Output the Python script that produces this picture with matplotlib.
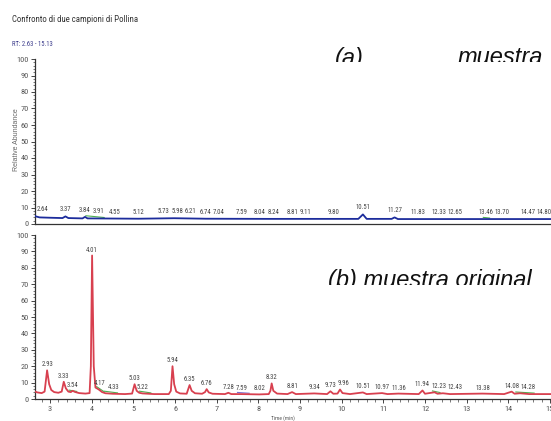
import numpy as np
import matplotlib
matplotlib.use("Agg")
import matplotlib.pyplot as plt
from matplotlib.ticker import MultipleLocator
from matplotlib.transforms import Bbox, TransformedBbox
from matplotlib.font_manager import FontProperties, fontManager

# ---------------- data ----------------
title = "Confronto di due campioni di Pollina"
rt_range = "RT: 2.63 - 15.13"
x_min, x_max = 2.63, 15.13

# (a) top trace (blue)
top_t = [2.63, 2.66, 2.75, 3.00, 3.30, 3.37, 3.44, 3.78, 3.84, 3.90, 4.55, 5.12,
         5.98, 6.74, 8.24, 10.40, 10.51, 10.60, 11.20, 11.27, 11.35, 15.13]
top_y = [5.0, 4.6, 4.0, 3.8, 3.6, 4.6, 3.6, 3.4, 4.3, 3.4, 3.3, 3.2,
         3.5, 3.2, 3.1, 3.1, 5.8, 3.1, 3.1, 4.0, 3.0, 3.0]
top_peaks = [2.64, 3.37, 3.84, 3.91, 4.55, 5.12, 5.73, 5.98, 6.21, 6.74, 7.04, 7.59,
             8.04, 8.24, 8.81, 9.11, 9.80, 10.51, 11.27, 11.83, 12.33, 12.65, 13.46,
             13.70, 14.47, 14.80]

# (b) bottom trace (red)
bot_t = [2.63, 2.70, 2.80, 2.87, 2.93, 2.98, 3.03, 3.10, 3.20, 3.28, 3.33, 3.38,
         3.44, 3.50, 3.54, 3.60, 3.70, 3.85, 3.95, 3.98, 4.01, 4.05, 4.09, 4.17,
         4.25, 4.33, 4.50, 4.80, 4.97, 5.03, 5.08, 5.14, 5.22, 5.50, 5.85, 5.90,
         5.94, 5.98, 6.03, 6.12, 6.28, 6.35, 6.40, 6.48, 6.65, 6.72, 6.76, 6.81,
         6.90, 7.20, 7.28, 7.35, 7.59, 8.02, 8.25, 8.29, 8.32, 8.36, 8.45, 8.70,
         8.81, 8.90, 9.34, 9.65, 9.73, 9.80, 9.90, 9.96, 10.02, 10.20, 10.51, 10.60,
         10.97, 11.10, 11.36, 11.85, 11.94, 12.00, 12.23, 12.30, 12.43, 12.60, 13.38,
         13.90, 14.08, 14.15, 14.28, 14.50, 15.13]
bot_y = [4.6, 4.0, 3.6, 4.5, 17.5, 9.0, 5.5, 4.2, 3.8, 4.5, 10.5, 6.5,
         4.5, 4.2, 5.0, 4.3, 3.6, 3.3, 3.6, 20.0, 87.5, 20.0, 7.0, 5.8,
         4.2, 3.5, 3.2, 3.0, 3.3, 9.0, 5.0, 3.8, 3.4, 3.0, 3.0, 5.0,
         20.0, 9.0, 4.5, 3.4, 3.2, 8.5, 5.0, 3.5, 3.2, 4.2, 6.0, 4.0,
         3.2, 3.0, 3.8, 3.0, 3.0, 2.8, 3.0, 5.0, 9.5, 5.0, 3.3, 3.0,
         4.2, 3.0, 3.4, 3.0, 4.7, 3.2, 3.3, 5.8, 3.6, 3.0, 4.0, 3.0,
         3.6, 3.0, 3.3, 3.0, 5.2, 3.2, 4.1, 3.2, 3.5, 3.0, 3.3,
         3.0, 4.5, 3.2, 3.5, 3.0, 3.0]
bot_peaks = [2.93, 3.33, 3.54, 4.01, 4.17, 4.33, 5.03, 5.22, 5.94, 6.35, 6.76, 7.28,
             7.59, 8.02, 8.32, 8.81, 9.34, 9.73, 9.96, 10.51, 10.97, 11.36, 11.94,
             12.23, 12.43, 13.38, 14.08, 14.28]

# integration baseline marks (start, end retention times)
bot_marks = [(3.46, 3.64), (4.12, 4.30), (4.30, 4.62), (5.15, 5.42),
             (12.18, 12.36), (14.18, 14.62)]
bot_mark_purple = [(7.50, 7.78)]
top_marks = [(3.86, 4.30), (13.40, 13.55)]

y_ticks = list(range(0, 101, 10))
x_ticks = list(range(3, 16))

# ---------------- fonts ----------------
names = {f.name for f in fontManager.ttflist}
cond = None
for cand in ('Liberation Sans Narrow', 'Roboto Condensed', 'Open Sans Condensed'):
    if cand in names:
        cond = FontProperties(family=[cand, 'DejaVu Sans'])
        break
if cond is None:
    cond = FontProperties(family=['Liberation Sans', 'DejaVu Sans'])
cond_family = cond.get_family()
plt.rcParams['font.family'] = cond_family

W, H = 551, 421
fig = plt.figure(figsize=(W / 100, H / 100), dpi=100)
fig.patch.set_facecolor('white')
renderer = fig.canvas.get_renderer()


def fit_size(s, target_px, family, style='normal'):
    p = FontProperties(family=family, style=style, size=10)
    w, _, _ = renderer.get_text_width_height_descent(s, p, ismath=False)
    return 10 * target_px / w


lab_fs = min(fit_size("2.93", 11.7, cond_family), 6.0)
tick_fs = min(fit_size("100", 12.0, cond_family), 6.0)
xtick_fs = tick_fs
title_fs = min(fit_size(title, 125, cond_family), 7.0)
rt_fs = min(fit_size(rt_range, 41, cond_family), 5.2)

left = 34.6 / W
width = (555.4 - 34.6) / W
ax_top = fig.add_axes([left, (H - 224) / H, width, (224 - 59) / H])
ax_bot = fig.add_axes([left, (H - 399) / H, width, (399 - 235) / H])

tick_col = '#555555'
for ax in (ax_top, ax_bot):
    ax.set_xlim(x_min, x_max)
    ax.set_ylim(0, 100)
    for s in ('top', 'right'):
        ax.spines[s].set_visible(False)
    for s in ('left', 'bottom'):
        ax.spines[s].set_color('#333333')
        ax.spines[s].set_linewidth(0.9)
    ax.set_yticks(y_ticks)
    ax.yaxis.set_minor_locator(MultipleLocator(2))
    ax.tick_params(axis='y', which='major', direction='out', length=3, width=0.7,
                   pad=1, labelsize=tick_fs, labelcolor=tick_col, color='#444444')
    ax.tick_params(axis='y', which='minor', direction='out', length=1.8, width=0.5,
                   color='#444444')
    ax.set_facecolor('none')

ax_top.tick_params(axis='x', which='both', bottom=False, labelbottom=False)
ax_bot.set_xticks(x_ticks)
ax_bot.xaxis.set_minor_locator(MultipleLocator(0.2))
ax_bot.tick_params(axis='x', which='major', direction='out', length=3, width=0.7,
                   pad=2, labelsize=xtick_fs, labelcolor=tick_col, color='#444444')
ax_bot.tick_params(axis='x', which='minor', direction='out', length=1.8, width=0.5,
                   color='#444444')

# traces
ax_top.plot(top_t, top_y, color='#1c2c9c', lw=1.3, solid_joinstyle='round', zorder=3)
ax_bot.plot(bot_t, bot_y, color='#d8404f', lw=1.3, solid_joinstyle='round', zorder=3)

# integration marks
for ax, marks, tt, yy, col in ((ax_bot, bot_marks, bot_t, bot_y, '#4caf50'),
                               (ax_bot, bot_mark_purple, bot_t, bot_y, '#7b6fd0'),
                               (ax_top, top_marks, top_t, top_y, '#4caf50')):
    for a, b in marks:
        ax.plot([a, b], [np.interp(a, tt, yy) + 1.0, np.interp(b, tt, yy) + 0.6],
                color=col, lw=0.8, zorder=2)

# peak labels with simple collision avoidance
lab_col = '#444444'


def place_labels(ax, peaks, tt, yy, off_px):
    anns = []
    for rt in peaks:
        yv = np.interp(rt, tt, yy)
        a = ax.annotate(f"{rt:.2f}", (rt, yv), xytext=(0, off_px),
                        textcoords='offset pixels', ha='center', va='bottom',
                        fontsize=lab_fs, color=lab_col)
        anns.append((rt, yv, a))
    fig.canvas.draw()
    ax_x0 = ax.get_window_extent(renderer).x0
    placed = []
    gap = 1.5
    apex = [(ax.transData.transform((rt, yv))) for rt, yv, _ in anns]
    for i, (rt, yv, a) in enumerate(anns):
        bb = a.get_window_extent(renderer)
        x0, x1, y0, y1 = bb.x0, bb.x1, bb.y0, bb.y1
        dx = 0.0
        if x0 < ax_x0 + 2:
            dx = ax_x0 + 2 - x0
        changed = True
        while changed:
            changed = False
            for (px0, px1, py0, py1) in placed:
                if py0 < y1 and py1 > y0 and px0 - gap < x1 + dx and px1 + gap > x0 + dx:
                    dx = px1 + gap - x0
                    changed = True
            for j, (ax_, ay_) in enumerate(apex):
                if j < i and ay_ > y0 and x0 + dx - 1 < ax_ < x1 + dx + 1:
                    dx = ax_ + 2 - x0
                    changed = True
        a.xyann = (dx, off_px)
        placed.append((x0 + dx, x1 + dx, y0, y1))


place_labels(ax_top, top_peaks, top_t, top_y, 3)
place_labels(ax_bot, bot_peaks, bot_t, bot_y, 2)

# header texts
fig.text(12 / W, 1 - 20 / H, title, fontsize=title_fs, color='#333333', va='center', ha='left')
fig.text(12 / W, 1 - 44.5 / H, rt_range, fontsize=rt_fs, color='#3c3c8c', va='center', ha='left')
fig.text(16 / W, 1 - 140 / H, "Relative Abundance", rotation=90, fontsize=5,
         color='#666666', va='center', ha='center', family=['Liberation Sans', 'DejaVu Sans'])
fig.text(283 / W, 1 - 418 / H, "Time (min)", fontsize=4, color='#555555',
         va='center', ha='center')

# overlay labels (clipped at their lower edge)
ital = dict(fontsize=17, style='italic', color='#111111',
            family=['Liberation Sans', 'DejaVu Sans'], va='baseline', ha='left')
clip_a = TransformedBbox(Bbox([[0, (H - 62) / H], [1, 1]]), fig.transFigure)
clip_b = TransformedBbox(Bbox([[0, (H - 285) / H], [1, 1]]), fig.transFigure)
for x, txt in ((335, "(a)"), (458, "muestra")):
    t = fig.text(x / W, (H - 64.5) / H, txt, **ital)
    t.set_clip_on(True)
    t.set_clip_box(clip_a)
t = fig.text(328 / W, (H - 287.5) / H, "(b) muestra original", **ital)
t.set_clip_on(True)
t.set_clip_box(clip_b)

fig.savefig("out.png", dpi=100, facecolor='white')
